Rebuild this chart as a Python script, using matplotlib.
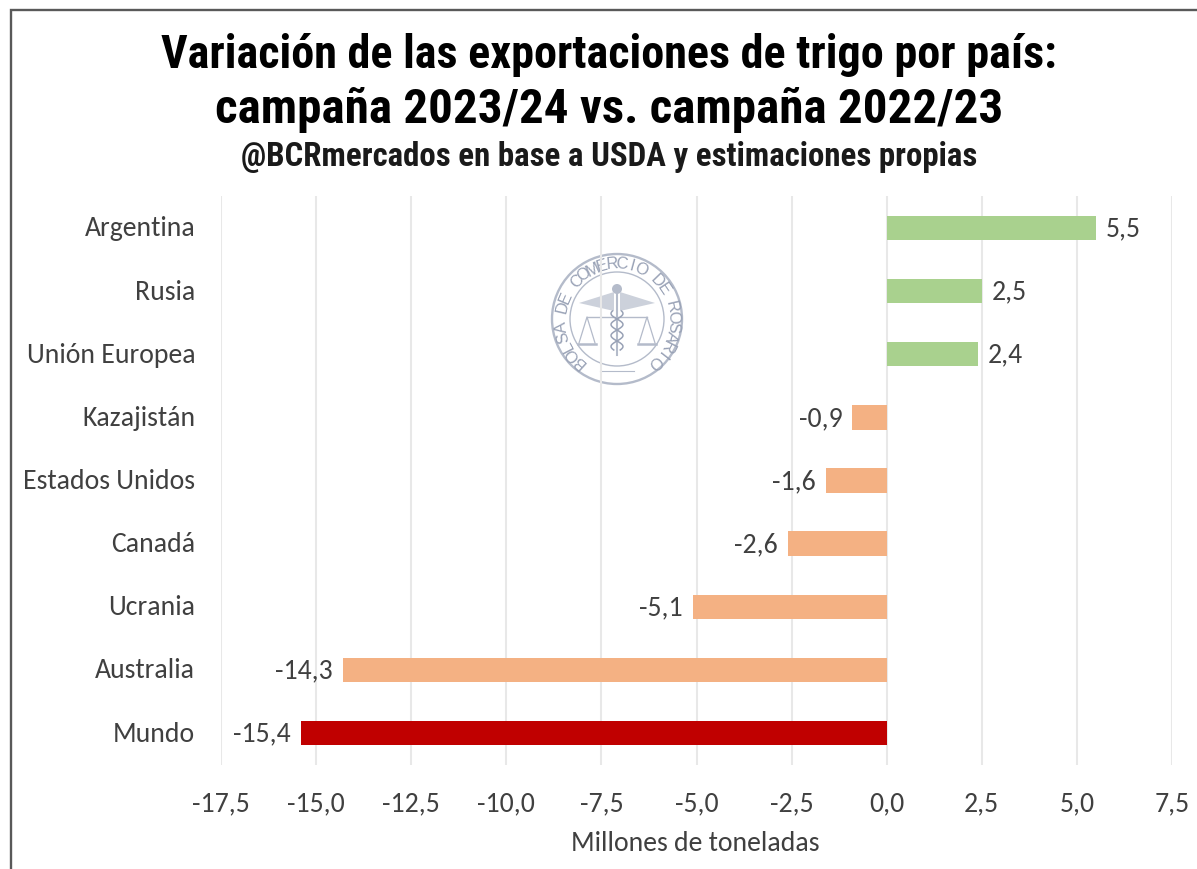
#!/usr/bin/env python

"""Wheat export variation by country, 2023/24 vs. 2022/23."""

import numpy as np
import matplotlib as mpl
mpl.use('Agg')
import matplotlib.pyplot as plt
from matplotlib import font_manager as fm
from matplotlib.patches import Circle, Polygon

W, H = 1197, 870

countries = ['Argentina', 'Rusia', 'Unión Europea', 'Kazajistán', 'Estados Unidos',
             'Canadá', 'Ucrania', 'Australia', 'Mundo']
values = [5.5, 2.5, 2.4, -0.9, -1.6, -2.6, -5.1, -14.3, -15.4]
bar_colors = ['#A9D18E', '#A9D18E', '#A9D18E', '#F4B183', '#F4B183',
              '#F4B183', '#F4B183', '#F4B183', '#C00000']
ticks = [-17.5, -15.0, -12.5, -10.0, -7.5, -5.0, -2.5, 0.0, 2.5, 5.0, 7.5]

title_lines = ['Variación de las exportaciones de trigo por país:',
               'campaña 2023/24 vs. campaña 2022/23']
subtitle = '@BCRmercados en base a USDA y estimaciones propias'
xlabel = 'Millones de toneladas'
seal_text = 'BOLSA DE COMERCIO DE ROSARIO'

TEXT = '#404040'
names = {f.name for f in fm.fontManager.ttflist}
# the condensed and Calibri-like faces are not always there, so fall back
if 'Roboto Condensed' in names:
    TITLE_FONT, TITLE_SIZES, SUB_SIZE = 'Roboto Condensed', (33.2, 35.3), 23.7
else:
    TITLE_FONT, TITLE_SIZES, SUB_SIZE = 'Roboto', (29.7, 29.7), 21
LABEL_FONT = 'Carlito' if 'Carlito' in names else 'Open Sans'
LABEL_SIZE = 20 if LABEL_FONT == 'Carlito' else 16.8


def comma(v):
    """Format with a decimal comma."""
    return '{:.1f}'.format(v).replace('.', ',')


def draw_seal(ax):
    """Draw the faint round seal behind the bars, in pixel coords."""
    cx, cy = 617, 320
    col = '#B4BBCA'
    dark = '#99A2B6'
    ax.add_patch(Circle((cx, cy), 65, fill=False, ec=col, lw=1.7))
    ax.add_patch(Circle((cx, cy), 47, fill=False, ec=col, lw=1.0))
    # letters round the ring, from lower left over the top to lower right
    angles = np.linspace(228, -48, len(seal_text))
    for ch, a in zip(seal_text, angles):
        r = np.radians(a)
        ax.text(cx + 56 * np.cos(r), cy - 56 * np.sin(r), ch, rotation=a - 90,
                ha='center', va='center', fontsize=12, color=dark,
                family='Liberation Sans', rotation_mode='anchor')
    # caduceus and scales
    ax.plot([cx, cx], [cy - 30, cy + 36], color=col, lw=1.5)
    ax.add_patch(Circle((cx, cy - 30), 5, fc=col, ec='none'))
    ax.add_patch(Polygon([[cx - 38, cy - 16], [cx - 3, cy - 27], [cx - 3, cy - 8]], fc='#CCD1DB', ec='none'))
    ax.add_patch(Polygon([[cx + 38, cy - 16], [cx + 3, cy - 27], [cx + 3, cy - 8]], fc='#CCD1DB', ec='none'))
    ax.plot([cx - 30, cx + 30], [cy - 2, cy - 2], color=col, lw=1)
    for s in (-1, 1):
        px = cx + s * 30
        ax.plot([px - 8, px, px + 8], [cy + 24, cy - 2, cy + 24], color=col, lw=0.9)
        ax.plot([px - 9, px + 9], [cy + 25, cy + 25], color=col, lw=1.8)
    yy = np.arange(cy - 8, cy + 32, 1)
    ax.plot(cx + 6 * np.sin((yy - cy) / 3.5), yy, color=dark, lw=1.1)
    ax.plot(cx - 6 * np.sin((yy - cy) / 3.5), yy, color=dark, lw=1.1)
    ax.plot([cx - 17, cx + 17], [cy + 52, cy + 52], color=col, lw=0.8)


def main():
    fig = plt.figure(figsize=(W / 100, H / 100), dpi=100)

    # chart area, from the gridline positions in the picture
    left, right = 221, 1172
    top, bottom = 197.4, 765.6
    ax = fig.add_axes([left / W, 1 - bottom / H, (right - left) / W, (bottom - top) / H])
    ypos = np.arange(len(countries))
    ax.barh(ypos, values, height=0.385, color=bar_colors, zorder=3)
    ax.set_xlim(-17.5, 7.5)
    ax.set_ylim(len(countries) - 0.5, -0.5)
    ax.set_yticks(ypos)
    ax.set_yticklabels(countries, fontsize=LABEL_SIZE, color=TEXT, family=LABEL_FONT,
                       va='center')
    ax.set_xticks(ticks)
    ax.set_xticklabels([comma(t) for t in ticks], fontsize=LABEL_SIZE, color=TEXT,
                       family=LABEL_FONT)
    ax.tick_params(length=0)
    ax.tick_params(axis='y', pad=18.5)
    ax.tick_params(axis='x', pad=18.5)
    ax.xaxis.grid(True, color='#E8E8E8', lw=1.5, zorder=0)
    ax.set_axisbelow(True)
    for s in ax.spines.values():
        s.set_visible(False)
    ax.patch.set_alpha(0)

    for y, v in zip(ypos, values):
        off = 7.2 if v > 0 else -7.2
        ax.annotate(comma(v), (v, y), xytext=(off, 0), textcoords='offset points',
                    ha='left' if v > 0 else 'right', va='center', fontsize=LABEL_SIZE,
                    color=TEXT, family=LABEL_FONT, zorder=4)

    # pixel overlay: frame, axis label, seal
    over = fig.add_axes([0, 0, 1, 1], zorder=-1)
    over.set_xlim(0, W)
    over.set_ylim(H, 0)
    over.axis('off')
    over.plot([11, 11, W], [H, 11, 11], color='#595959', lw=1.7, solid_joinstyle='miter')
    draw_seal(over)

    top_ax = fig.add_axes([0, 0, 1, 1], zorder=5)
    top_ax.set_xlim(0, W)
    top_ax.set_ylim(H, 0)
    top_ax.axis('off')
    top_ax.text(609, 55, title_lines[0], ha='center', va='center', fontsize=TITLE_SIZES[0],
                fontweight='bold', color='black', family=TITLE_FONT)
    top_ax.text(609, 110, title_lines[1], ha='center', va='center', fontsize=TITLE_SIZES[1],
                fontweight='bold', color='black', family=TITLE_FONT)
    top_ax.text(609, 157, subtitle, ha='center', va='center', fontsize=SUB_SIZE,
                fontweight='bold', color='#1A1A1A', family=TITLE_FONT)
    top_ax.text(695, 844, xlabel, ha='center', va='center', fontsize=LABEL_SIZE,
                color=TEXT, family=LABEL_FONT)

    fig.savefig('out.png', dpi=100, facecolor='white')


if __name__ == '__main__':
    main()
